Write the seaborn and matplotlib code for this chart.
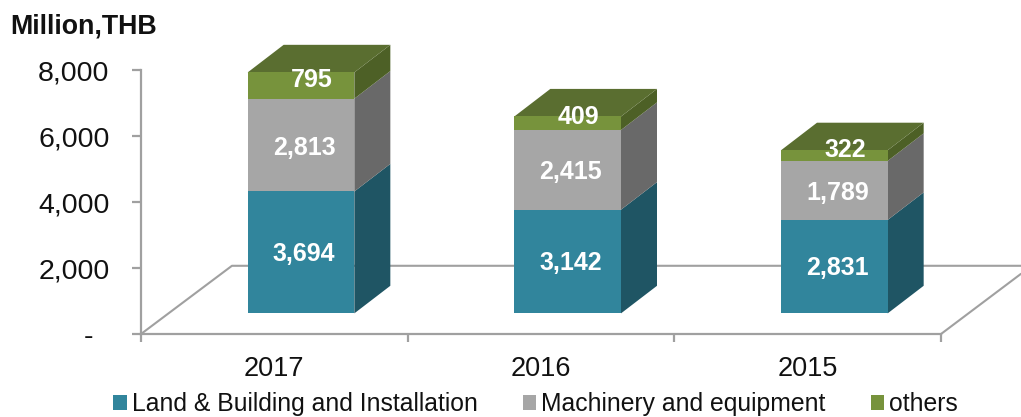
import numpy as np
import pandas as pd
import matplotlib
matplotlib.use("Agg")
import matplotlib.pyplot as plt
from matplotlib.patches import Polygon, Patch
import seaborn as sns

years = ["2017", "2016", "2015"]
land = [3694, 3142, 2831]
machinery = [2813, 2415, 1789]
others = [795, 409, 322]
series_names = ["Land & Building and Installation", "Machinery and equipment", "others"]
y_ticks = [0, 2000, 4000, 6000, 8000]
y_tick_labels = ["-  ", "2,000", "4,000", "6,000", "8,000"]

sns.set_theme(style="white")
plt.rcParams["font.family"] = ["Liberation Sans", "DejaVu Sans"]

W, H = 1021, 417
fig = plt.figure(figsize=(W / 100, H / 100), dpi=100)
ax = fig.add_axes([141 / W, 1 - 334 / H, 800 / W, 264 / H])

GRID = "#A0A0A0"
BASE = 625          # lift of bar fronts above the axis floor
DX, DY = 0.135, 836 # bar depth
SHIFT = 0.10        # bars sit toward the back of each category
WIDTH = 0.40
FRONT = ["#31859C", "#A6A6A6", "#77933C"]
SIDE = ["#1F5564", "#696969", "#4D6026"]
TOP = "#5A6E30"
LABEL_OFF = [(3, -1.5), (3, -2.5), (10.5, 6)]  # px

df = pd.DataFrame({"year": years, "land": land, "machinery": machinery, "others": others})
cols = ["land", "machinery", "others"]

cum = np.zeros(len(years))
for col, c in zip(cols, FRONT):
    sns.barplot(data=df, x="year", y=col, order=years, bottom=BASE + cum, color=c,
                width=WIDTH, saturation=1, linewidth=0, ax=ax, zorder=4)
    cum += df[col].to_numpy()

for p in ax.patches:
    p.set_x(p.get_x() + SHIFT)
    p.set_clip_on(False)

cum = np.zeros(len(years))
for si, col in enumerate(cols):
    vals = df[col].to_numpy()
    for i in range(len(years)):
        x1 = i + SHIFT + WIDTH / 2
        b = BASE + cum[i]
        t = b + vals[i]
        ax.add_patch(Polygon([(x1, b), (x1 + DX, b + DY), (x1 + DX, t + DY), (x1, t)],
                             closed=True, fc=SIDE[si], ec="none", zorder=3, clip_on=False))
        ax.annotate(f"{vals[i]:,}", (i + SHIFT, (b + t) / 2),
                    xytext=(LABEL_OFF[si][0] * 0.72, LABEL_OFF[si][1] * 0.72),
                    textcoords="offset points", ha="center", va="center",
                    color="white", fontsize=18, fontweight="bold", zorder=6,
                    annotation_clip=False)
    cum += vals

for i in range(len(years)):
    x0 = i + SHIFT - WIDTH / 2
    x1 = x0 + WIDTH
    T = BASE + cum[i]
    ax.add_patch(Polygon([(x0, T), (x0 + DX, T + DY), (x1 + DX, T + DY), (x1, T)],
                         closed=True, fc=TOP, ec="none", zorder=3, clip_on=False))

# floor of the 3-D plot
FL_DX, FL_DY = 0.341, 2067
ax.plot([-0.5, -0.5 + FL_DX, 2.8], [0, FL_DY, FL_DY], color=GRID, lw=1.5, clip_on=False, zorder=1)
ax.plot([2.5, 2.8], [0, 1824], color=GRID, lw=1.5, clip_on=False, zorder=1)

ax.set_xlim(-0.5, 2.5)
ax.set_ylim(0, 8000)
ax.set_xlabel("")
ax.set_ylabel("")
ax.set_yticks(y_ticks, labels=y_tick_labels)
ax.set_xticks([-0.5, 0.5, 1.5, 2.5], labels=[""] * 4)
ax.set_xticks([0, 1, 2], labels=years, minor=True)
ax.tick_params(axis="x", which="major", length=6, width=1.6, color=GRID, direction="out", bottom=True)
ax.tick_params(axis="x", which="minor", length=0, labelsize=19.5, pad=16.2, labelcolor="#111111", bottom=True)
ax.tick_params(axis="y", length=6.5, width=1.6, color=GRID, direction="out", left=True,
               labelsize=20.5, pad=16.2, labelcolor="#111111")
sns.despine(ax=ax)
for s in ("left", "bottom"):
    ax.spines[s].set_color(GRID)
    ax.spines[s].set_linewidth(1.6)
ax.patch.set_alpha(0)

fig.text(10 / W, 1 - 26 / H, "Million,THB", fontsize=19.3, fontweight="bold",
         va="center", ha="left", color="#111111")

handles = [Patch(fc=c, ec="none", label=n) for c, n in zip(FRONT, series_names)]
fig.legend(handles=handles, loc="center left", bbox_to_anchor=(113 / W, 1 - 404 / H),
           bbox_transform=fig.transFigure, ncol=3, frameon=False, fontsize=17.8,
           handlelength=0.55, handleheight=0.55, handletextpad=0.2, columnspacing=1.83,
           borderpad=0, borderaxespad=0, labelcolor="#111111")

fig.savefig("out.png", dpi=100)
